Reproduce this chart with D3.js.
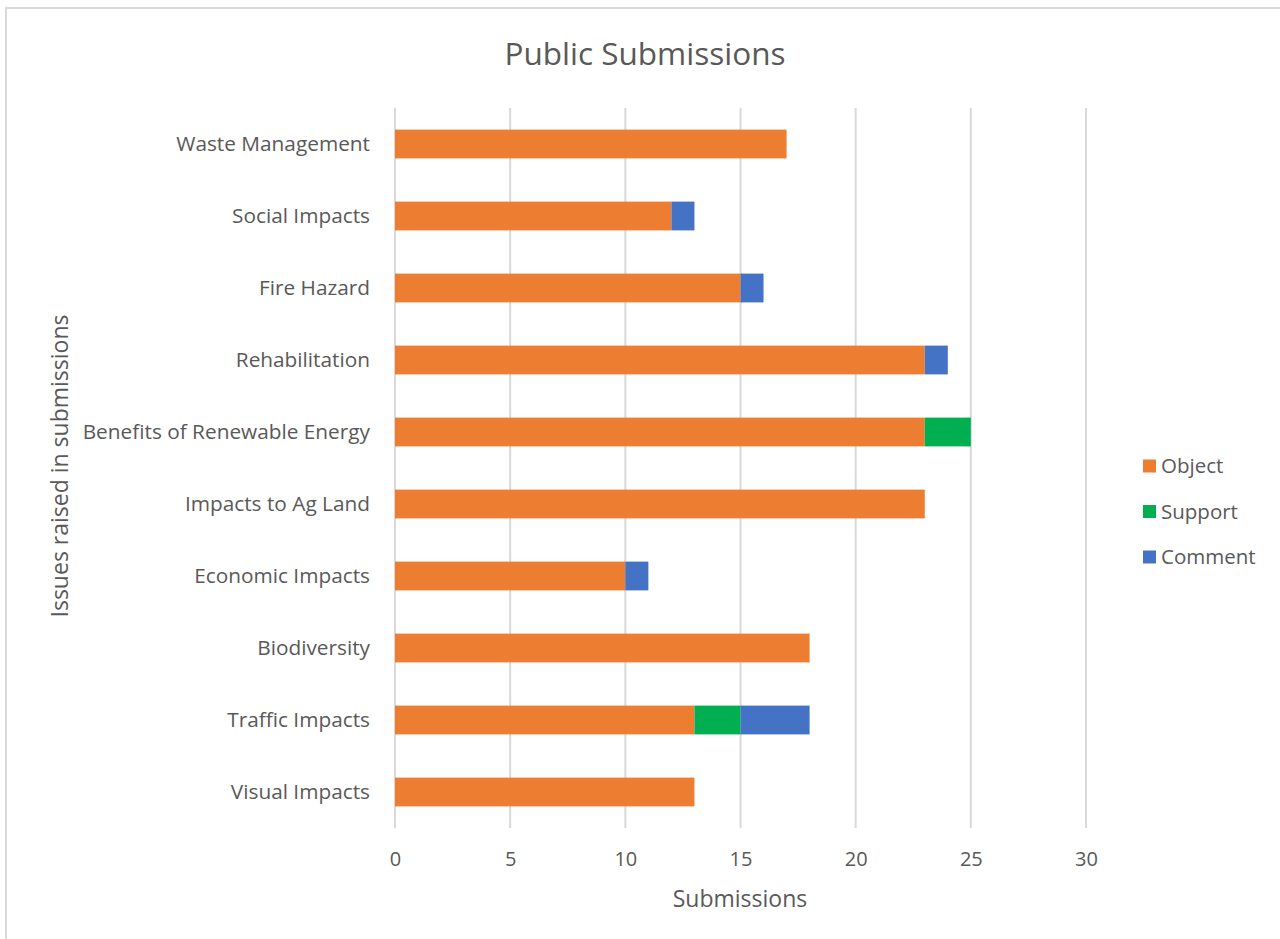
<!DOCTYPE html>
<html><head><meta charset="utf-8">
<script src="https://cdn.jsdelivr.net/npm/d3@7"></script>
<style>body{margin:0;background:#fff;} svg{display:block;} text{font-family:"Open Sans",sans-serif;fill:#595959;}</style>
</head><body>
<svg id="c" width="1280" height="939"></svg>
<script>
const categories = ["Waste Management","Social Impacts","Fire Hazard","Rehabilitation","Benefits of Renewable Energy","Impacts to Ag Land","Economic Impacts","Biodiversity","Traffic Impacts","Visual Impacts"];
const objectVals  = [17,12,15,23,23,23,10,18,13,13];
const supportVals = [0,0,0,0,2,0,0,0,2,0];
const commentVals = [0,1,1,1,0,0,1,0,3,0];
const seriesNames = ["Object","Support","Comment"];
const seriesColors = ["#ED7D31","#00B050","#4472C4"];
const xTicks = [0,5,10,15,20,25,30];

const svg = d3.select("#c");
svg.append("rect").attr("x",6).attr("y",8).attr("width",1290).attr("height",950)
  .attr("fill","#fff").attr("stroke","#d9d9d9").attr("stroke-width",2);

const m = {l:395,r:1086,t:108,b:828};
const x = d3.scaleLinear().domain([0,30]).range([m.l,m.r]);
const y = d3.scaleBand().domain(categories).range([m.t,m.b]).paddingInner(0.6).paddingOuter(0.3);

svg.append("g").selectAll("line").data(xTicks).join("line")
  .attr("x1",d=>x(d)).attr("x2",d=>x(d)).attr("y1",m.t).attr("y2",m.b)
  .attr("stroke","#d9d9d9").attr("stroke-width",2);

const rows = categories.map((c,i)=>({cat:c,Object:objectVals[i],Support:supportVals[i],Comment:commentVals[i]}));
const stack = d3.stack().keys(seriesNames)(rows);
svg.append("g").selectAll("g").data(stack).join("g")
  .attr("fill",(d,i)=>seriesColors[i])
  .selectAll("rect").data(d=>d.filter(p=>p[1]>p[0])).join("rect")
  .attr("x",d=>x(d[0])).attr("width",d=>x(d[1])-x(d[0]))
  .attr("y",d=>y(d.data.cat)).attr("height",y.bandwidth());

const xa = svg.append("g").attr("transform",`translate(0,${m.b})`)
  .call(d3.axisBottom(x).tickValues(xTicks).tickSize(0).tickPadding(24));
xa.select(".domain").remove();
xa.selectAll("text").style("font-size","20px").attr("fill","#595959");

const ya = svg.append("g").attr("transform",`translate(${m.l},0)`)
  .call(d3.axisLeft(y).tickSize(0).tickPadding(25));
ya.select(".domain").remove();
ya.selectAll("text").style("font-size","20.8px").attr("fill","#595959");

svg.append("text").attr("x",645).attr("y",65).attr("text-anchor","middle")
  .style("font-size","31.5px").text("Public Submissions");
svg.append("text").attr("x",740).attr("y",907).attr("text-anchor","middle")
  .style("font-size","23px").text("Submissions");
svg.append("text").attr("transform","translate(68,466) rotate(-90)").attr("text-anchor","middle")
  .style("font-size","23px").text("Issues raised in submissions");

const lg = svg.append("g").selectAll("g").data(seriesNames).join("g")
  .attr("transform",(d,i)=>`translate(1143,${466+i*45.5})`);
lg.append("rect").attr("x",0).attr("y",-6.5).attr("width",13).attr("height",13).attr("fill",(d,i)=>seriesColors[i]);
lg.append("text").attr("x",18).attr("y",0).attr("dy","0.35em").style("font-size","20.5px").text(d=>d);
</script>
</body></html>
